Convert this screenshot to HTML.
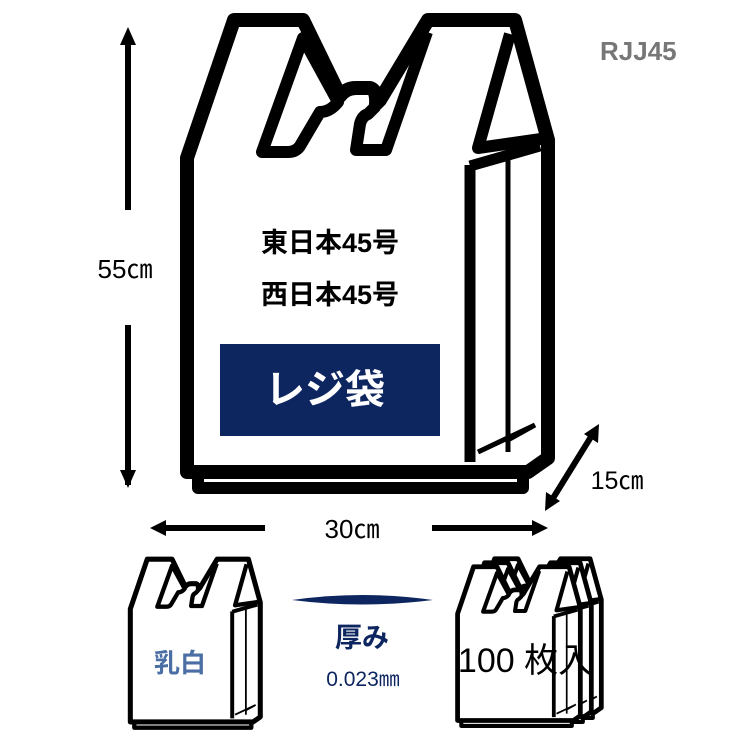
<!DOCTYPE html>
<html><head><meta charset="utf-8"><style>
body{margin:0;background:#fff}
svg{display:block}
text{font-family:"Liberation Sans","Noto Sans CJK JP",sans-serif}
</style></head><body>
<svg width="750" height="750" viewBox="0 0 750 750" xmlns="http://www.w3.org/2000/svg">
<defs>
<g id="bag">
 <path d="M198,466 L523,466 L523,488 L198,488 Z" fill="#fff" stroke="#000" stroke-width="12" stroke-linejoin="round"/>
 <path d="M187,472 L187,158 L234,20 L303,20 L340,96 Q346,88 356,88 L370,88 Q377,90 376,104 L380,100 L428,20 L515,20 L548,140 L548,458 L528,472 Z" fill="#fff" stroke="#000" stroke-width="14" stroke-linejoin="round"/>
 <path d="M303,38 L338,102 Q330,112 320,112 L300,146 Q296,152 288,152 L262,152 Z" fill="#fff" stroke="#000" stroke-width="12" stroke-linejoin="round"/>
 <path d="M376,106 L368,114 Q362,116 360,124 L356,150 L386,150 L427,32" fill="none" stroke="#000" stroke-width="12" stroke-linejoin="round"/>
 <path d="M510,34 L478,148 L548,138" fill="none" stroke="#000" stroke-width="12" stroke-linejoin="round"/>
 <path d="M470,165 L470,462" stroke="#000" stroke-width="11"/>
 <path d="M470,166 L540,146" stroke="#000" stroke-width="11"/>
 <path d="M508,158 L508,452" stroke="#000" stroke-width="5"/>
 <path d="M478,452 L535,425 L508,440" fill="none" stroke="#000" stroke-width="5"/>
</g>
</defs>

<use href="#bag"/>
<rect x="220" y="344" width="220" height="92" fill="#0e2660"/>
<text x="325" y="403" font-size="40" font-weight="bold" fill="#fff" text-anchor="middle">レジ袋</text>
<text x="330" y="252" font-size="27" font-weight="bold" text-anchor="middle">東日本45号</text>
<text x="330" y="304" font-size="27" font-weight="bold" text-anchor="middle">西日本45号</text>

<text x="600" y="60" font-size="26" font-weight="bold" fill="#777">RJJ45</text>

<path d="M128,40 L128,210 M128,325 L128,485" stroke="#000" stroke-width="6"/>
<path d="M128,27 L120,45 L136,45 Z M128,488 L120,470 L136,470 Z" fill="#000"/>
<text x="125" y="278" font-size="26" text-anchor="middle">55㎝</text>

<path d="M160,528 L265,528 M432,528 L538,528" stroke="#000" stroke-width="6"/>
<path d="M150,528 L166,520 L166,536 Z M548,528 L532,520 L532,536 Z" fill="#000"/>
<text x="352" y="538" font-size="26" text-anchor="middle">30㎝</text>

<path d="M550,503 L594,432" stroke="#000" stroke-width="6"/>
<path d="M545,511 L546,492 L560,501 Z M599,424 L598,443 L584,434 Z" fill="#000"/>
<text x="617" y="489" font-size="25" text-anchor="middle">15㎝</text>

<g transform="translate(63,552) scale(0.36)"><use href="#bag"/></g>
<text x="180" y="672" font-size="26" font-weight="bold" fill="#4b6fa5" text-anchor="middle">乳白</text>

<path d="M292,600 Q362,590 433,600 Q362,609 292,600 Z" fill="#0e2660"/>
<text x="362" y="647" font-size="27" font-weight="bold" fill="#0e2660" text-anchor="middle">厚み</text>
<text x="363" y="686" font-size="21" fill="#0e2660" text-anchor="middle">0.023㎜</text>

<g transform="translate(415,552) scale(0.34)"><use href="#bag"/></g>
<g transform="translate(405,556) scale(0.34)"><use href="#bag"/></g>
<g transform="translate(394,560) scale(0.34)"><use href="#bag"/></g>
<text x="525" y="672" font-size="34" text-anchor="middle">100 枚入</text>
</svg>
</body></html>
